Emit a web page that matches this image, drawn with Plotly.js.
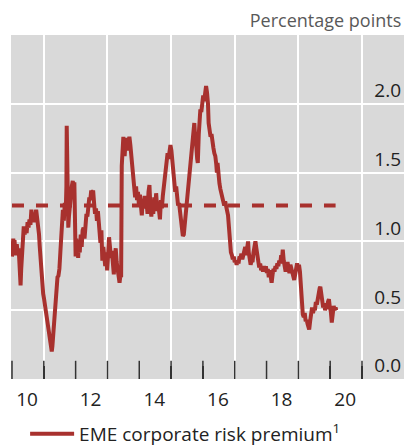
<!DOCTYPE html>
<html>
<head>
<meta charset="utf-8">
<script src="https://cdn.plot.ly/plotly-3.0.1.min.js"></script>
<style>html,body{margin:0;padding:0;background:#fff}#chart{width:405px;height:446px}</style>
</head>
<body>
<div id="chart"></div>
<script>
// Decimal years and EME corporate risk premium (percentage points)
const years = [
2010.00,2010.02,2010.04,2010.06,2010.08,2010.10,2010.13,2010.15,2010.18,2010.21,2010.23,2010.25,2010.27,2010.29,2010.31,2010.33,2010.35,2010.37,2010.40,2010.43,2010.46,2010.49,2010.52,2010.55,2010.58,2010.61,2010.64,2010.67,2010.70,2010.73,2010.76,2010.79,2010.82,2010.85,2010.87,2010.90,2010.92,2010.95,2010.98,
2011.01,2011.04,2011.07,2011.10,2011.13,2011.16,2011.19,2011.22,2011.25,2011.27,2011.29,2011.32,2011.35,2011.38,2011.41,2011.43,2011.46,2011.49,2011.52,2011.55,2011.58,2011.60,2011.63,2011.66,2011.69,2011.71,2011.72,2011.73,2011.75,2011.77,2011.79,2011.82,2011.85,2011.88,2011.91,2011.94,2011.96,2011.98,
2012.00,2012.02,2012.04,2012.06,2012.08,2012.10,2012.13,2012.16,2012.19,2012.22,2012.25,2012.28,2012.31,2012.34,2012.37,2012.40,2012.43,2012.46,2012.49,2012.52,2012.55,2012.58,2012.61,2012.64,2012.67,2012.70,2012.73,2012.76,2012.78,2012.81,2012.84,2012.87,2012.90,2012.93,2012.96,2012.99,
2013.02,2013.05,2013.08,2013.11,2013.14,2013.17,2013.20,2013.23,2013.26,2013.29,2013.32,2013.35,2013.38,2013.41,2013.43,2013.45,2013.47,2013.50,2013.52,2013.54,2013.57,2013.60,2013.63,2013.66,2013.69,2013.72,2013.75,2013.78,2013.81,2013.84,2013.87,2013.90,2013.93,2013.96,2013.99,
2014.02,2014.05,2014.08,2014.11,2014.14,2014.17,2014.20,2014.23,2014.26,2014.29,2014.32,2014.35,2014.38,2014.41,2014.44,2014.47,2014.50,2014.53,2014.56,2014.59,2014.62,2014.65,2014.68,2014.71,2014.74,2014.77,2014.80,2014.83,2014.86,2014.89,2014.92,2014.95,2014.98,
2015.01,2015.04,2015.07,2015.10,2015.13,2015.16,2015.19,2015.22,2015.25,2015.28,2015.31,2015.34,2015.37,2015.40,2015.43,2015.46,2015.49,2015.52,2015.55,2015.58,2015.61,2015.64,2015.67,2015.70,2015.73,2015.76,2015.79,2015.82,2015.84,2015.87,2015.89,2015.92,2015.95,2015.98,
2016.01,2016.04,2016.07,2016.10,2016.13,2016.16,2016.18,2016.21,2016.24,2016.27,2016.30,2016.33,2016.36,2016.39,2016.42,2016.44,2016.46,2016.49,2016.52,2016.55,2016.58,2016.61,2016.64,2016.67,2016.70,2016.73,2016.76,2016.79,2016.82,2016.85,2016.88,2016.91,2016.94,2016.97,
2017.00,2017.03,2017.06,2017.09,2017.12,2017.15,2017.18,2017.21,2017.24,2017.27,2017.30,2017.33,2017.36,2017.39,2017.42,2017.44,2017.47,2017.50,2017.53,2017.56,2017.59,2017.62,2017.65,2017.68,2017.71,2017.74,2017.77,2017.80,2017.83,2017.86,2017.89,2017.92,2017.95,2017.98,
2018.01,2018.04,2018.07,2018.10,2018.13,2018.16,2018.19,2018.22,2018.25,2018.28,2018.31,2018.34,2018.37,2018.40,2018.43,2018.46,2018.49,2018.51,2018.54,2018.57,2018.60,2018.63,2018.66,2018.69,2018.72,2018.75,2018.78,2018.81,2018.84,2018.87,2018.90,2018.93,2018.96,2018.99,
2019.02,2019.05,2019.07,2019.09,2019.11,2019.14,2019.17,2019.20,2019.23,2019.26,2019.29,2019.32,2019.34,2019.37,2019.40,2019.43,2019.46,2019.49,2019.52,2019.55,2019.58,2019.61,2019.64,2019.67,2019.69,2019.72,2019.75,2019.78,2019.81,2019.84,2019.87,2019.90,2019.93,2019.96,2019.99,
2020.02,2020.05,2020.08,2020.11,2020.14,2020.17,2020.19
];
const premium = [
0.89,0.96,1.02,0.97,1.01,0.93,0.90,0.98,0.92,0.95,0.86,0.74,0.68,0.80,0.92,1.05,1.00,1.11,1.05,1.10,1.06,1.14,1.10,1.16,1.12,1.23,1.15,1.20,1.14,1.22,1.23,1.17,1.12,1.05,0.97,0.85,0.76,0.68,0.62,
0.58,0.53,0.50,0.45,0.40,0.33,0.30,0.26,0.20,0.24,0.31,0.38,0.45,0.55,0.68,0.74,0.75,0.80,0.92,1.03,1.12,1.23,1.15,1.28,1.22,1.40,1.84,1.55,1.25,1.10,1.18,1.28,1.35,1.40,1.44,1.38,1.43,1.12,
0.89,1.02,0.94,1.00,0.88,0.98,0.92,1.05,0.96,1.08,1.10,1.02,1.15,1.20,1.18,1.28,1.32,1.30,1.37,1.35,1.37,1.28,1.20,1.24,1.15,1.22,1.10,1.02,0.99,1.08,0.86,0.96,0.88,0.82,0.92,0.79,
0.90,1.03,0.96,0.88,0.93,0.80,0.76,0.88,0.95,0.85,0.78,0.74,0.70,0.76,0.74,1.55,1.74,1.76,1.68,1.62,1.73,1.75,1.66,1.74,1.76,1.70,1.62,1.48,1.45,1.37,1.32,1.40,1.30,1.36,1.26,
1.34,1.22,1.19,1.30,1.25,1.33,1.24,1.28,1.20,1.36,1.41,1.25,1.18,1.30,1.20,1.32,1.22,1.35,1.25,1.29,1.18,1.16,1.30,1.24,1.33,1.40,1.47,1.54,1.58,1.64,1.60,1.68,1.70,
1.66,1.56,1.48,1.42,1.36,1.40,1.30,1.26,1.28,1.20,1.14,1.08,1.04,1.05,1.12,1.20,1.28,1.32,1.40,1.48,1.54,1.64,1.70,1.73,1.86,1.74,1.70,1.60,1.57,1.78,1.93,1.96,1.94,2.04,
2.06,2.02,2.10,2.13,2.08,2.00,1.86,1.82,1.76,1.78,1.70,1.68,1.64,1.62,1.56,1.50,1.57,1.46,1.42,1.38,1.35,1.30,1.28,1.26,1.29,1.25,1.22,1.19,1.10,0.98,0.92,0.90,0.87,0.89,
0.85,0.86,0.83,0.86,0.84,0.89,0.88,0.91,0.87,0.90,0.93,0.96,0.90,0.97,1.00,0.92,0.86,0.83,0.86,0.85,0.92,0.96,1.00,0.95,0.89,0.84,0.81,0.84,0.79,0.81,0.78,0.82,0.79,0.82,
0.77,0.80,0.74,0.79,0.73,0.70,0.76,0.80,0.78,0.82,0.80,0.84,0.82,0.86,0.84,0.90,0.88,0.94,0.86,0.80,0.78,0.83,0.85,0.80,0.77,0.83,0.80,0.77,0.74,0.72,0.76,0.82,0.84,0.80,
0.83,0.78,0.70,0.55,0.50,0.47,0.45,0.48,0.42,0.43,0.40,0.38,0.36,0.42,0.49,0.52,0.48,0.51,0.50,0.56,0.54,0.60,0.63,0.66,0.67,0.60,0.55,0.52,0.55,0.50,0.53,0.51,0.56,0.58,0.52,
0.49,0.41,0.48,0.53,0.50,0.52,0.50
];
// Dashed reference (average) line
const avgYears = [2010.0, 2020.17];
const avgValue = 1.26;

const yTickVals = [0, 0.5, 1.0, 1.5, 2.0];
const yTickText = ['0.0', '0.5', '1.0', '1.5', '2.0'];
const evenYears = [2010,2012,2014,2016,2018,2020];
const labelText = ['10','12','14','16','18','20'];
const tickYears = [2010,2011,2012,2013,2014,2015,2016,2017,2018,2019,2020,2021];

const seriesName = 'EME corporate risk premium<sup>1</sup>';
const red = '#a8312e';
const xRange = [2009.969, 2022.32];

const traces = [
  {x: avgYears, y: avgYears.map(() => avgValue), type: 'scatter', mode: 'lines',
   line: {color: red, width: 4, dash: '12px,12px'}, showlegend: false, hoverinfo: 'skip'},
  {x: years, y: premium, type: 'scatter', mode: 'lines', name: seriesName,
   line: {color: red, width: 4}},
  // year tick marks: vertical line markers sitting on the x axis (lower half clipped by the plot area)
  {x: tickYears, y: tickYears.map(() => 0), type: 'scatter', mode: 'markers', showlegend: false,
   hoverinfo: 'skip', cliponaxis: true,
   marker: {symbol: 'line-ns', size: 26, color: '#333333', line: {color: '#333333', width: 1.5}}}
];

const FONT = '"Open Sans", "Noto Sans", sans-serif';
const layout = {
  width: 405, height: 446,
  margin: {l: 11, r: 1, t: 35, b: 67, autoexpand: false},
  paper_bgcolor: '#ffffff',
  plot_bgcolor: '#d9d9d9',
  font: {family: FONT, size: 19, color: '#222'},
  title: {text: 'Percentage points', font: {family: FONT, size: 18, color: '#595959'},
          xref: 'paper', x: 0.993, xanchor: 'right', yref: 'container', y: 0.953, yanchor: 'middle'},
  xaxis: {range: xRange, tickmode: 'array', tickvals: evenYears, ticktext: labelText,
          ticks: 'inside', ticklen: 13, tickwidth: 1.5, tickcolor: '#333', layer: 'above traces',
          ticklabelshift: 15, ticklabelstandoff: 7, tickfont: {size: 19, color: '#222'},
          showgrid: false, automargin: false,
          minor: {tickmode: 'linear', tick0: 2011, dtick: 2, ticks: 'inside', ticklen: 13, tickwidth: 1.5,
                  tickcolor: '#333', showgrid: true, gridcolor: '#ffffff', gridwidth: 2},
          zeroline: false, showline: false, fixedrange: true},
  yaxis: {range: [0, 2.5], side: 'right', tickmode: 'array', tickvals: yTickVals, ticktext: yTickText,
          ticklabelposition: 'inside top', ticks: '', showgrid: true, gridcolor: '#ffffff', gridwidth: 2,
          automargin: false, zeroline: false, showline: false, tickfont: {size: 19, color: '#222'}, fixedrange: true},
  legend: {orientation: 'h', xref: 'container', yref: 'container', x: 0.062, y: 0.0695, yanchor: 'top',
           itemwidth: 44, font: {size: 19, color: '#222'}, bgcolor: 'rgba(0,0,0,0)'},
  showlegend: true
};

Plotly.newPlot('chart', traces, layout, {staticPlot: true, displayModeBar: false});
</script>
</body>
</html>
